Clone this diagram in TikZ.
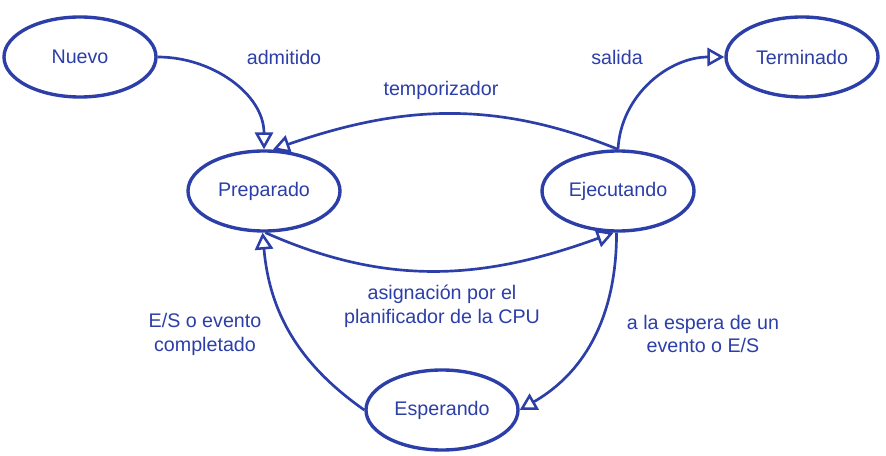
\documentclass[tikz,border=0pt]{standalone}
\usepackage{fontspec}
\setmainfont{Liberation Sans}
\usetikzlibrary{shapes.geometric,arrows.meta}
\definecolor{inkblue}{RGB}{44,62,168}

\begin{document}
\begin{tikzpicture}[font=\fontsize{14}{17}\selectfont, color=inkblue]

	\tikzstyle{state_box} = [ellipse, draw=inkblue, line width=2.4pt, minimum width=3.8cm, minimum height=2cm, inner sep=0pt]
	\tikzstyle{trans_edge} = [-{Triangle[open, length=12pt, width=13pt, line width=1.8pt]}, line width=1.9pt]
	\tikzstyle{trans_label} = [align=center]

	\useasboundingbox (0,0) rectangle (22.15,11.375);

%------------------------------------------------------------
	\node[state_box] (nuevo) at (2.0,9.95) {Nuevo};
	\node[state_box] (term) at (20.05,9.95) {Terminado};

	\node[state_box] (prep) at (6.6,6.6) {Preparado};
	\node[state_box] (ejec) at (15.45,6.6) {Ejecutando};

	\node[state_box] (esp) at (11.05,1.125) {Esperando};

%------------------------------------------------------------
	\node[trans_label] (l_adm) at (7.1,9.95) {admitido};
	\node[trans_label] (l_temp) at (11.025,9.125) {temporizador};
	\node[trans_label] (l_sal) at (15.425,9.95) {salida};
	\node[trans_label] (l_asig) at (11.05,3.725) {asignación por el\\planificador de la CPU};
	\node[trans_label] (l_esp) at (17.575,3.025) {a la espera de un\\evento o E/S};
	\node[trans_label] (l_comp) at (5.125,3.025) {E/S o evento\\completado};

%------------------------------------------------------------
	\path[trans_edge] (nuevo.east) edge[out=0, in=90] (prep.north);
	\path[trans_edge] (ejec.north) edge[out=158, in=19] (prep.78);
	\path[trans_edge] (ejec.north) edge[out=87, in=180] (term.west);

	\path[trans_edge] (prep.-88) edge[out=-24, in=200] (ejec.-96);
	\path[trans_edge] (ejec.-92) edge[out=-90, in=30] (esp.east);
	\path[trans_edge] (esp.west) edge[out=145, in=-85] (prep.-92);

\end{tikzpicture}
\end{document}
